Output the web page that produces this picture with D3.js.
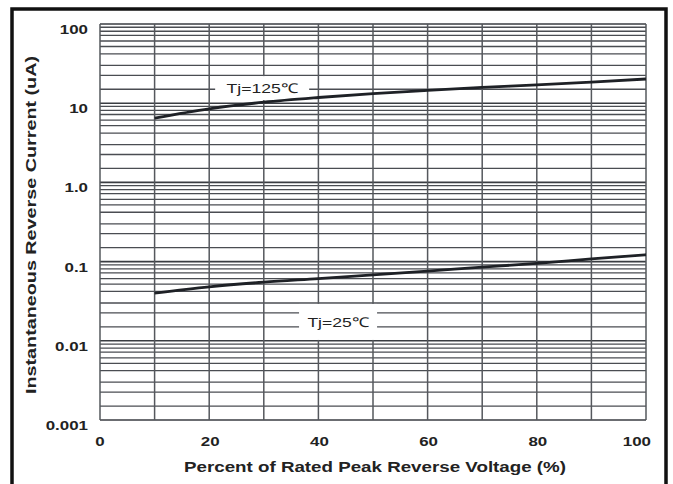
<!DOCTYPE html>
<html>
<head>
<meta charset="utf-8">
<script src="https://cdn.jsdelivr.net/npm/d3@7"></script>
<style>
  body { margin: 0; background: #fff; }
  text { font-family: "Liberation Sans", Arial, sans-serif; fill: #222; }
</style>
</head>
<body>
<svg id="chart"></svg>
<script>
// percent of rated peak reverse voltage
var voltage = [10, 20, 30, 40, 50, 60, 70, 80, 90, 100];
// reverse current (uA)
var current125 = [6.5, 8.5, 10.3, 11.8, 13.2, 14.5, 15.8, 17.0, 18.5, 20.2];
var current25 = [0.040, 0.048, 0.055, 0.061, 0.068, 0.076, 0.085, 0.095, 0.108, 0.122];

var xGrid = [0, 10, 20, 30, 40, 50, 60, 70, 80, 90, 100];
var xTicks = [0, 20, 40, 60, 80, 100];
var yDecades = [0.001, 0.01, 0.1, 1, 10, 100];
var yTickLabels = ["0.001", "0.01", "0.1", "1.0", "10", "100"];
// minor lines inside each decade (as drawn on the sheet)
var yMinor = [1.5, 2.25, 3, 4.2, 5.2, 6.1, 7.2, 8.1, 9.1];

var width = 673, height = 484;
var plotLeft = 100, plotRight = 646, plotTop = 24, plotBottom = 420;
// the scanned sheet has its lettering stretched sideways
var stretchK = 1.3;

var svg = d3.select("#chart")
            .attr("width", width)
            .attr("height", height);

var x = d3.scaleLinear().domain([0, 100]).range([plotLeft, plotRight]);
var y = d3.scaleLog().domain([0.001, 100]).range([plotBottom, plotTop]);

var stretch = function(sel) {
  sel.each(function() {
    var len = this.getComputedTextLength();
    d3.select(this)
      .attr("textLength", len * stretchK)
      .attr("lengthAdjust", "spacingAndGlyphs");
  });
};

// outer frame
svg.append("path")
   .attr("d", "M12,490 L12,9 L666,9 L666,490")
   .attr("fill", "none")
   .attr("stroke", "#111")
   .attr("stroke-width", 3.5);

// horizontal grid
var minorVals = [];
yDecades.slice(0, -1).forEach(function(d) {
  yMinor.forEach(function(m) { minorVals.push(d * m); });
});

svg.selectAll("line.minor")
   .data(minorVals)
   .enter()
   .append("line")
   .attr("class", "minor")
   .attr("x1", plotLeft).attr("x2", plotRight)
   .attr("y1", function(d) { return y(d); })
   .attr("y2", function(d) { return y(d); })
   .attr("stroke", "#4a4d52")
   .attr("stroke-width", 1.3);

svg.selectAll("line.major")
   .data(yDecades)
   .enter()
   .append("line")
   .attr("class", "major")
   .attr("x1", plotLeft).attr("x2", plotRight)
   .attr("y1", function(d) { return y(d); })
   .attr("y2", function(d) { return y(d); })
   .attr("stroke", "#3a3d42")
   .attr("stroke-width", 1.6);

// vertical grid
svg.selectAll("line.vgrid")
   .data(xGrid)
   .enter()
   .append("line")
   .attr("class", "vgrid")
   .attr("x1", function(d) { return x(d); })
   .attr("x2", function(d) { return x(d); })
   .attr("y1", plotTop).attr("y2", plotBottom)
   .attr("stroke", "#55585d")
   .attr("stroke-width", 1.5);

// curve labels with white boxes
var labels = [
  {text: "Tj=125\u2103", v: 29.7, c: 15.5, w: 94, h: 24},
  {text: "Tj=25\u2103", v: 43.6, c: 0.0173, w: 78, h: 36}
];
labels.forEach(function(l) {
  var cx = x(l.v), cy = y(l.c);
  svg.append("rect")
     .attr("x", cx - l.w / 2).attr("y", cy - l.h / 2)
     .attr("width", l.w).attr("height", l.h)
     .attr("fill", "#fff");
  svg.append("text")
     .attr("x", cx - 27).attr("y", cy + 5)
     .attr("font-size", 13.5)
     .text(l.text)
     .call(stretch)
     .attr("x", function() { return cx - this.getComputedTextLength() / 2; });
});

// curves
var line = d3.line()
  .x(function(d, i) { return x(voltage[i]); })
  .y(function(d) { return y(d); })
  .curve(d3.curveMonotoneX);

[current125, current25].forEach(function(s) {
  svg.append("path")
     .attr("d", line(s))
     .attr("fill", "none")
     .attr("stroke", "#1e2126")
     .attr("stroke-width", 2.8);
});

// y tick labels
svg.selectAll("text.ytick")
   .data(yDecades)
   .enter()
   .append("text")
   .attr("class", "ytick")
   .attr("x", 88)
   .attr("y", function(d) { return y(d) + 10; })
   .attr("text-anchor", "end")
   .attr("font-size", 13)
   .attr("font-weight", "bold")
   .text(function(d, i) { return yTickLabels[i]; })
   .call(stretch);

// x tick labels
svg.selectAll("text.xtick")
   .data(xTicks)
   .enter()
   .append("text")
   .attr("class", "xtick")
   .attr("x", function(d) { return x(d); })
   .attr("y", 446)
   .attr("text-anchor", function(d) { return d === 100 ? "end" : "middle"; })
   .attr("dx", function(d) { return d === 100 ? 5 : (d === 0 ? 0 : 1); })
   .attr("font-size", 13)
   .attr("font-weight", "bold")
   .text(function(d) { return d; })
   .call(stretch);

// axis titles
svg.append("text")
   .attr("x", 375).attr("y", 472)
   .attr("text-anchor", "middle")
   .attr("font-size", 14.5)
   .attr("font-weight", "bold")
   .text("Percent of Rated Peak Reverse Voltage (%)")
   .attr("textLength", 382)
   .attr("lengthAdjust", "spacingAndGlyphs");

svg.append("text")
   .attr("transform", "translate(36," + 225 + ") rotate(-90)")
   .attr("text-anchor", "middle")
   .attr("font-size", 14.5)
   .attr("font-weight", "bold")
   .text("Instantaneous Reverse Current (uA)")
   .attr("textLength", 338)
   .attr("lengthAdjust", "spacingAndGlyphs");
</script>
</body>
</html>
